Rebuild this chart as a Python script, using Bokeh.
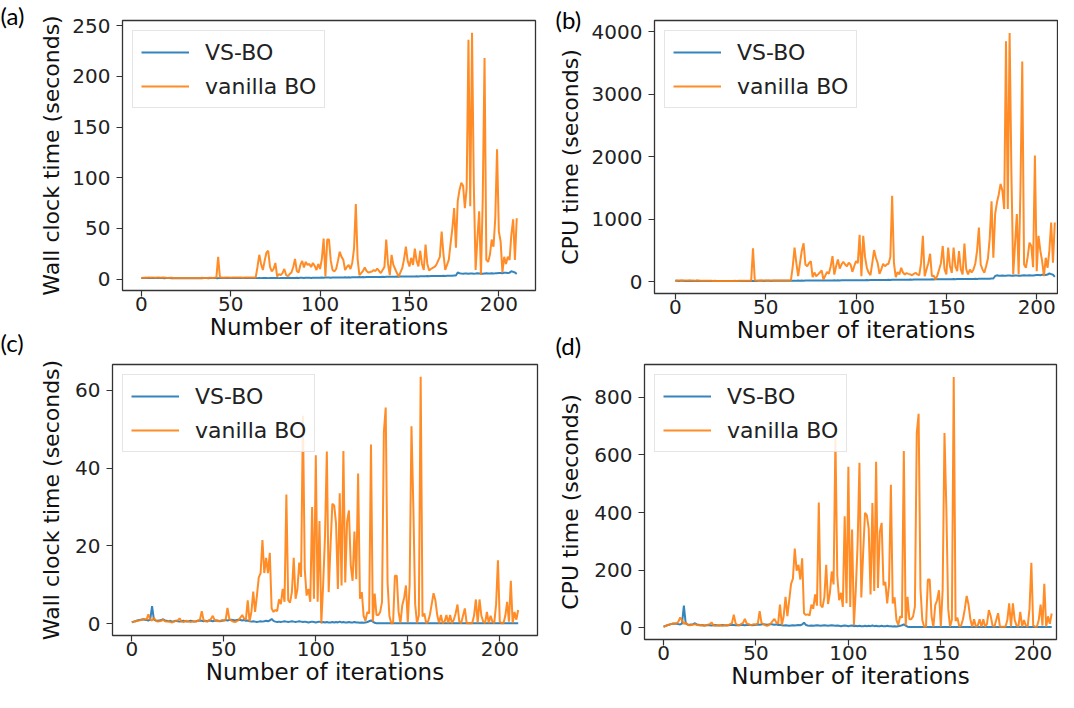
from bokeh.plotting import figure
from bokeh.layouts import column, row
from bokeh.models import Range1d, FixedTicker, Title
from bokeh.embed import file_html
from bokeh.resources import INLINE

N = 211
iterations = list(range(N))
x_ticks = [0, 50, 100, 150, 200]
series_names = ["VS-BO", "vanilla BO"]
panel_tags = ["(a)", "(b)", "(c)", "(d)"]

# ---------------- (a) wall clock time, run 1 ----------------
wall_vs_a = [
    1.0, 1.1, 1.0, 1.2, 1.1, 1.0, 1.1, 1.2, 1.0, 1.1,
    1.0, 1.1, 1.0, 0.9, 1.0, 1.1, 1.0, 0.9, 1.0, 1.0,
    0.9, 1.0, 1.0, 0.9, 1.0, 0.9, 1.0, 1.0, 0.9, 1.0,
    1.0, 0.9, 1.0, 1.0, 0.9, 1.0, 1.1, 1.0, 1.0, 1.1,
    1.0, 1.1, 1.0, 1.0, 1.1, 1.0, 1.1, 1.0, 1.1, 1.0,
    1.1, 1.0, 1.1, 1.1, 1.0, 1.1, 1.0, 1.1, 1.1, 1.0,
    1.1, 1.0, 1.1, 1.0, 1.1, 1.0, 1.1, 1.0, 1.1, 1.2,
    1.1, 1.0, 1.1, 1.2, 1.1, 1.2, 1.1, 1.0, 1.1, 1.2,
    1.2, 1.1, 1.2, 1.3, 1.2, 1.1, 1.2, 1.3, 1.2, 1.3,
    1.3, 1.2, 1.3, 1.4, 1.3, 1.2, 1.3, 1.4, 1.3, 1.4,
    1.4, 1.5, 1.4, 1.5, 1.6, 1.5, 1.4, 1.5, 1.6, 1.5,
    1.6, 1.7, 1.6, 1.7, 1.8, 1.7, 1.8, 1.7, 1.8, 1.9,
    1.8, 1.9, 2.0, 1.9, 2.0, 1.9, 2.0, 2.1, 2.0, 2.1,
    2.2, 2.1, 2.2, 2.1, 2.2, 2.3, 2.2, 2.3, 2.4, 2.3,
    2.4, 2.3, 2.4, 2.5, 2.4, 2.5, 2.6, 2.5, 2.6, 2.5,
    2.6, 2.7, 2.6, 2.7, 2.8, 2.7, 2.8, 2.9, 2.8, 2.9,
    3.0, 2.9, 3.0, 3.1, 3.0, 3.1, 3.2, 3.1, 3.2, 3.3,
    3.2, 3.3, 3.4, 3.3, 3.4, 3.5, 3.6, 6.5, 5.8, 5.5,
    5.4, 5.6, 5.5, 5.3, 5.5, 5.6, 5.4, 5.5, 5.7, 5.6,
    5.5, 5.4, 5.6, 5.7, 5.5, 5.6, 5.8, 5.6, 5.7, 5.9,
    6.0, 6.1, 5.9, 6.2, 6.3, 6.1, 6.4, 7.8, 7.2, 6.5, 5.2,
]
wall_van_a = [
    1.0, 1.3, 1.5, 1.4, 1.6, 1.5, 1.7, 1.5, 1.4, 1.6,
    1.5, 1.4, 1.6, 1.5, 1.3, 1.2, 1.4, 1.3, 1.2, 1.1,
    1.2, 1.0, 1.1, 1.2, 1.0, 1.1, 1.0, 1.2, 1.1, 1.0,
    1.1, 1.2, 1.0, 1.1, 1.3, 1.2, 1.1, 1.2, 1.4, 1.3,
    1.2, 1.4, 1.5, 22.0, 1.6, 1.5, 1.4, 1.5, 1.6, 1.5,
    1.4, 1.5, 1.6, 1.5, 1.5, 1.6, 1.5, 1.4, 1.5, 1.6,
    1.5, 1.6, 1.5, 1.6, 1.7, 12.0, 24.0, 15.0, 9.0, 18.0,
    26.0, 28.0, 12.0, 7.6, 10.0, 16.0, 2.6, 5.0, 4.0, 6.0,
    10.0, 4.0, 3.0, 5.0, 6.6, 12.0, 20.0, 8.0, 6.6, 14.0,
    18.0, 11.5, 17.0, 14.0, 15.0, 12.0, 16.0, 13.0, 9.0, 15.0,
    10.0, 20.0, 40.0, 2.6, 39.0, 39.0, 18.0, 9.0, 7.6, 10.0,
    18.0, 27.0, 22.0, 19.0, 9.0, 12.0, 14.0, 10.0, 16.0, 30.0,
    74.0, 20.0, 4.0, 6.0, 8.0, 11.5, 8.0, 6.6, 7.0, 7.6,
    9.0, 8.0, 10.5, 8.0, 6.0, 9.0, 12.0, 39.0, 15.0, 4.0,
    24.0, 14.0, 10.0, 6.0, 2.6, 7.0, 11.0, 20.0, 32.0, 18.0,
    12.5, 21.0, 14.0, 30.0, 18.0, 12.5, 28.0, 15.0, 9.0, 34.0,
    15.0, 8.6, 10.0, 11.0, 12.0, 14.0, 18.0, 22.0, 47.0, 25.0,
    9.0, 14.0, 19.0, 35.0, 50.0, 70.0, 31.0, 77.0, 88.0, 95.0,
    92.0, 70.0, 90.0, 236.0, 72.0, 243.0, 92.0, 9.0, 40.0, 67.0,
    4.0, 80.0, 218.0, 19.0, 17.0, 24.0, 39.0, 32.0, 60.0, 128.0,
    47.0, 37.0, 6.6, 22.0, 15.0, 22.0, 19.0, 44.0, 59.0, 19.0, 60.0,
]

# ---------------- (b) CPU time, run 1 ----------------
cpu_vs_b = [
    18, 17, 16, 18, 17, 16, 15, 16, 17, 16,
    15, 16, 17, 16, 15, 14, 15, 16, 15, 14,
    15, 16, 15, 14, 15, 16, 15, 14, 13, 14,
    15, 14, 13, 14, 15, 14, 13, 14, 15, 16,
    15, 16, 17, 16, 15, 16, 17, 18, 17, 16,
    17, 18, 17, 16, 17, 18, 19, 18, 17, 18,
    19, 18, 19, 20, 19, 20, 19, 20, 21, 20,
    21, 20, 21, 22, 21, 22, 21, 22, 23, 22,
    23, 22, 23, 24, 23, 24, 23, 24, 25, 24,
    25, 24, 25, 26, 25, 26, 25, 26, 27, 26,
    27, 26, 27, 28, 27, 28, 29, 28, 29, 30,
    29, 30, 31, 30, 31, 32, 31, 32, 33, 32,
    33, 34, 33, 34, 35, 34, 35, 36, 35, 36,
    37, 36, 37, 38, 37, 38, 39, 38, 39, 40,
    39, 40, 41, 40, 41, 42, 41, 42, 43, 42,
    43, 44, 43, 44, 45, 44, 45, 46, 45, 46,
    47, 46, 47, 48, 47, 48, 49, 48, 49, 50,
    49, 50, 51, 52, 51, 53, 55, 95, 105, 100,
    98, 102, 100, 97, 101, 104, 99, 100, 103, 101,
    100, 98, 102, 105, 101, 103, 106, 102, 104, 108,
    110, 112, 108, 114, 116, 112, 118, 135, 125, 115, 80,
]
cpu_van_b = [
    20, 22, 21, 23, 22, 24, 23, 22, 21, 22,
    21, 20, 22, 21, 19, 18, 19, 18, 17, 18,
    17, 16, 17, 16, 15, 16, 15, 16, 15, 16,
    16, 15, 16, 17, 16, 17, 18, 17, 18, 19,
    18, 19, 20, 537, 22, 21, 20, 21, 22, 21,
    22, 21, 22, 21, 22, 23, 22, 21, 22, 23,
    22, 23, 24, 23, 25, 250, 548, 300, 91, 300,
    500, 618, 279, 250, 300, 333, 75, 150, 91, 120,
    150, 183, 38, 100, 161, 130, 250, 413, 118, 250,
    360, 215, 280, 322, 279, 250, 306, 280, 161, 250,
    333, 300, 752, 91, 736, 400, 226, 150, 107, 300,
    510, 387, 300, 129, 200, 290, 250, 279, 290, 400,
    1380, 300, 75, 156, 120, 226, 150, 118, 140, 129,
    120, 107, 130, 145, 120, 107, 300, 736, 91, 200,
    300, 451, 91, 100, 38, 100, 199, 300, 575, 200,
    118, 548, 250, 145, 548, 250, 172, 494, 200, 118,
    612, 200, 118, 199, 150, 200, 290, 500, 870, 279,
    200, 145, 250, 376, 700, 1289, 387, 1085, 1273, 1400,
    1568, 1461, 1165, 3850, 1165, 3985, 1729, 118, 600, 1085,
    118, 1500, 3528, 279, 226, 400, 628, 575, 236, 2024,
    172, 736, 500, 333, 91, 387, 226, 500, 950, 306, 950,
]

# ---------------- (c) wall clock time, run 2 ----------------
wall_vs_c = [
    0.3, 0.5, 0.6, 0.8, 0.9, 1.0, 1.1, 1.0, 0.9, 0.8,
    1.0, 4.5, 1.0, 0.8, 0.7, 0.8, 0.9, 1.1, 0.8, 0.7,
    0.6, 0.7, 0.5, 0.6, 0.7, 0.6, 0.5, 0.6, 0.7, 0.6,
    0.5, 0.6, 0.7, 0.6, 0.5, 0.6, 0.7, 0.8, 0.7, 0.6,
    0.7, 0.6, 0.8, 0.7, 0.6, 0.7, 0.8, 0.7, 0.6, 0.7,
    0.8, 0.9, 0.8, 0.9, 1.0, 0.9, 0.8, 0.9, 1.0, 0.9,
    0.8, 0.9, 0.7, 0.8, 0.6, 0.5, 0.6, 0.5, 0.4, 0.5,
    0.6, 0.5, 0.6, 0.7, 0.6, 0.8, 1.2, 0.7, 0.5, 0.4,
    0.5, 0.4, 0.5, 0.6, 0.5, 0.4, 0.5, 0.6, 0.5, 0.4,
    0.5, 0.6, 0.5, 0.4, 0.5, 0.4, 0.3, 0.4, 0.5, 0.4,
    0.3, 0.4, 0.5, 0.3, 0.4, 0.3, 0.4, 0.3, 0.3, 0.4,
    0.3, 0.4, 0.3, 0.5, 0.3, 0.4, 0.3, 0.3, 0.4, 0.3,
    0.3, 0.4, 0.3, 0.3, 0.2, 0.3, 0.2, 0.3, 0.4, 0.6,
    0.8, 0.5, 0.2, 0.1, 0.1, 0.1, 0.1, 0.1, 0.1, 0.1,
    0.1, 0.1, 0.1, 0.1, 0.1, 0.1, 0.1, 0.1, 0.1, 0.1,
    0.1, 0.1, 0.1, 0.1, 0.1, 0.1, 0.1, 0.1, 0.1, 0.1,
    0.1, 0.1, 0.1, 0.1, 0.1, 0.1, 0.1, 0.1, 0.1, 0.1,
    0.1, 0.1, 0.1, 0.1, 0.1, 0.1, 0.1, 0.1, 0.1, 0.1,
    0.1, 0.1, 0.1, 0.1, 0.1, 0.1, 0.1, 0.1, 0.1, 0.1,
    0.1, 0.1, 0.1, 0.1, 0.1, 0.1, 0.1, 0.1, 0.1, 0.1,
    0.1, 0.1, 0.1, 0.1, 0.1, 0.1, 0.1, 0.1, 0.1, 0.1, 0.1,
]
wall_van_c = [
    0.3, 0.5, 0.6, 0.7, 0.8, 0.9, 1.0, 1.2, 1.0, 2.4,
    1.0, 0.8, 1.5, 0.8, 0.5, 0.6, 0.7, 1.0, 0.6, 0.5,
    0.6, 0.4, 0.3, 0.5, 0.7, 0.8, 1.35, 0.5, 0.4, 0.6,
    0.7, 0.5, 0.4, 0.5, 0.6, 0.5, 0.8, 0.9, 3.2, 0.9,
    0.6, 0.5, 0.8, 1.2, 2.0, 0.9, 0.8, 0.6, 0.7, 0.9,
    0.8, 1.0, 4.0, 1.2, 0.8, 0.5, 0.4, 0.6, 0.9, 1.5,
    2.2, 1.3, 1.0, 6.0, 0.5, 3.0, 8.2, 3.0, 7.2, 11.9,
    13.0, 21.5, 13.0, 16.9, 13.0, 18.2, 3.9, 3.0, 3.5, 3.2,
    6.2, 5.0, 8.9, 5.6, 33.2, 6.0, 5.4, 8.1, 16.9, 6.4,
    8.8, 15.7, 12.0, 53.5, 14.0, 7.2, 8.9, 5.6, 30.0, 6.4,
    43.3, 5.6, 26.4, 0.1, 10.0, 22.4, 44.3, 8.1, 20.0, 30.8,
    30.4, 25.8, 8.9, 33.5, 9.8, 44.4, 10.6, 26.2, 29.1, 15.0,
    11.0, 23.7, 11.4, 38.6, 6.4, 8.1, 2.0, 0.7, 3.0, 2.6,
    46.1, 0.5, 7.7, 2.2, 2.2, 3.0, 5.6, 49.3, 55.6, 10.6,
    2.0, 0.1, 0.1, 12.3, 12.3, 3.0, 0.1, 4.7, 6.6, 9.8,
    0.2, 10.0, 50.8, 30.6, 5.0, 0.1, 2.1, 63.5, 1.8, 2.6,
    0.1, 0.5, 2.2, 5.0, 7.8, 6.0, 2.2, 0.1, 2.2, 0.1,
    0.5, 2.2, 0.1, 2.2, 0.1, 1.0, 2.6, 4.9, 0.5, 0.1,
    2.0, 3.9, 0.1, 0.1, 0.1, 0.1, 2.0, 6.2, 0.1, 6.2,
    2.0, 0.5, 0.1, 3.0, 0.1, 2.0, 0.5, 0.1, 5.0, 16.3,
    0.5, 0.1, 0.1, 2.0, 5.6, 0.5, 11.0, 0.1, 3.0, 1.0, 3.5,
]

# ---------------- (d) CPU time, run 2 ----------------
cpu_vs_d = [
    3, 6, 8, 10, 12, 13, 14, 13, 12, 11,
    14, 76, 14, 11, 10, 11, 12, 15, 11, 10,
    8, 9, 7, 8, 9, 8, 7, 8, 9, 8,
    7, 8, 9, 8, 7, 8, 9, 10, 9, 8,
    9, 8, 10, 9, 8, 9, 10, 9, 8, 9,
    10, 11, 10, 11, 12, 11, 10, 11, 12, 11,
    10, 11, 9, 10, 8, 7, 8, 7, 6, 7,
    8, 7, 8, 9, 8, 11, 17, 9, 7, 6,
    7, 6, 7, 8, 7, 6, 7, 8, 7, 6,
    7, 8, 7, 6, 7, 6, 5, 6, 7, 6,
    5, 6, 7, 5, 6, 5, 6, 5, 5, 6,
    5, 6, 5, 7, 5, 6, 5, 5, 6, 5,
    5, 6, 5, 5, 4, 5, 4, 5, 6, 8,
    11, 7, 3, 2, 2, 2, 2, 2, 2, 2,
    2, 2, 2, 2, 2, 2, 2, 2, 2, 2,
    2, 2, 2, 2, 2, 2, 2, 2, 2, 2,
    2, 2, 2, 2, 2, 2, 2, 2, 2, 2,
    2, 2, 2, 2, 2, 2, 2, 2, 2, 2,
    2, 2, 2, 2, 2, 2, 2, 2, 2, 2,
    2, 2, 2, 2, 2, 2, 2, 2, 2, 2,
    2, 2, 2, 2, 2, 2, 2, 2, 2, 2, 2,
]
cpu_van_d = [
    2, 5, 8, 10, 12, 14, 13, 15, 20, 35,
    25, 12, 18, 10, 8, 9, 10, 12, 9, 8,
    9, 8, 6, 8, 10, 12, 18, 8, 6, 7,
    8, 7, 6, 8, 9, 8, 12, 15, 45, 14,
    9, 8, 12, 16, 30, 14, 12, 9, 10, 12,
    11, 14, 57, 16, 12, 8, 6, 9, 14, 22,
    30, 18, 14, 80, 8, 40, 107, 40, 95, 152,
    170, 275, 198, 218, 167, 241, 50, 44, 46, 42,
    80, 65, 115, 76, 435, 78, 70, 105, 218, 82,
    120, 195, 150, 662, 180, 95, 121, 72, 387, 85,
    559, 72, 341, 8, 130, 290, 573, 105, 260, 399,
    390, 344, 115, 433, 127, 576, 138, 332, 364, 147,
    158, 84, 148, 496, 84, 105, 26, 9, 39, 34,
    614, 7, 107, 29, 29, 39, 73, 676, 743, 135,
    26, 3, 3, 167, 167, 39, 3, 78, 95, 130,
    3, 130, 676, 416, 65, 3, 27, 871, 23, 34,
    3, 7, 29, 65, 110, 80, 29, 3, 29, 3,
    7, 29, 3, 29, 3, 13, 61, 40, 7, 3,
    26, 50, 3, 3, 3, 3, 26, 84, 3, 84,
    26, 7, 3, 55, 3, 26, 7, 3, 65, 225,
    7, 3, 3, 26, 80, 7, 152, 3, 39, 13, 49,
]

for arr in (wall_vs_a, wall_van_a, cpu_vs_b, cpu_van_b,
            wall_vs_c, wall_van_c, cpu_vs_d, cpu_van_d):
    assert len(arr) == N, len(arr)

BLUE = "#1f77b4"
ORANGE = "#ff7f0e"
FONT = "DejaVu Sans"
DARK = "#333333"


def padded(a, b):
    lo = min(min(a), min(b))
    hi = max(max(a), max(b))
    span = hi - lo
    return Range1d(lo - 0.05 * span, hi + 0.05 * span)


def style_tag(t, offset, standoff, valign):
    t.align = "left"
    t.offset = offset
    t.vertical_align = valign
    t.text_font = "Lato"
    t.text_font_size = "24px"
    t.text_font_style = "normal"
    t.text_color = "black"
    try:
        t.standoff = standoff
    except Exception:
        t.standoff = 0


def panel(vs, van, x_range, y_ticks, y_label, fw, fh, bl, bt, br, bb,
          y_als, x_mls, x_als, top_tag=None, below_tag=None):
    p = figure(frame_width=fw, frame_height=fh,
               min_border_left=bl, min_border_top=bt,
               min_border_right=br, min_border_bottom=bb,
               x_range=x_range, y_range=padded(vs, van),
               output_backend="svg", toolbar_location=None, tools="")
    p.line(iterations, vs, line_color=BLUE, line_width=2, line_alpha=0.9,
           legend_label=series_names[0])
    p.line(iterations, van, line_color=ORANGE, line_width=2, line_alpha=0.9,
           legend_label=series_names[1])
    p.xgrid.visible = False
    p.ygrid.visible = False
    p.outline_line_color = DARK
    p.outline_line_width = 1.3
    p.outline_line_alpha = 1.0
    p.background_fill_color = "white"
    p.border_fill_color = "white"

    p.xaxis.ticker = FixedTicker(ticks=x_ticks, minor_ticks=[])
    p.yaxis.ticker = FixedTicker(ticks=y_ticks, minor_ticks=[])
    for ax in (p.xaxis[0], p.yaxis[0]):
        ax.axis_line_color = None
        ax.major_tick_line_color = DARK
        ax.major_tick_line_width = 1.2
        ax.major_tick_out = 6
        ax.major_tick_in = 0
        ax.minor_tick_line_color = None
        ax.major_label_text_font = FONT
        ax.major_label_text_font_size = "20px"
        ax.major_label_text_color = "#222222"
        ax.axis_label_text_font = FONT
        ax.axis_label_text_font_style = "normal"
        ax.axis_label_text_color = "#111111"
    p.xaxis.axis_label = "Number of iterations"
    p.xaxis.axis_label_text_font_size = "23px"
    p.xaxis.major_label_standoff = x_mls
    p.xaxis.axis_label_standoff = x_als
    p.yaxis.axis_label = y_label
    p.yaxis.axis_label_text_font_size = "22px"
    p.yaxis.major_label_standoff = 6
    p.yaxis.axis_label_standoff = y_als

    lg = p.legend[0]
    lg.location = "top_left"
    lg.margin = 10
    lg.padding = 8
    lg.spacing = 8
    lg.glyph_width = 48
    lg.glyph_height = 26
    lg.label_height = 26
    lg.label_standoff = 16
    lg.label_text_font = FONT
    lg.label_text_font_size = "22px"
    lg.label_text_color = "#222222"
    lg.border_line_color = "#cccccc"
    lg.border_line_width = 1
    lg.background_fill_alpha = 0.85

    if top_tag is not None:
        text, off, so = top_tag
        p.title.text = text
        style_tag(p.title, off, so, "bottom")
    if below_tag is not None:
        text, off, so = below_tag
        t = Title(text=text)
        style_tag(t, off, so, "top")
        p.add_layout(t, "below")
    return p


pa = panel(wall_vs_a, wall_van_a, Range1d(-10.5, 220.5),
           [0, 50, 100, 150, 200, 250], "Wall clock time (seconds)",
           413, 270, 122, 20, 13, 70, 5, 0, 0,
           top_tag=(panel_tags[0], -122, -19),
           below_tag=(panel_tags[2], -122, -30))
pb = panel(cpu_vs_b, cpu_van_b, Range1d(-11.5, 211.5),
           [0, 1000, 2000, 3000, 4000], "CPU time (seconds)",
           403, 273, 106, 16, 1, 71, 6, 0, 0,
           top_tag=(panel_tags[1], -99, -27),
           below_tag=(panel_tags[3], -99, -30))
pc = panel(wall_vs_c, wall_van_c, Range1d(-10.5, 220.5),
           [0, 20, 40, 60], "Wall clock time (seconds)",
           425, 271, 112, 4, 11, 57, 8, 0, 0)
pd = panel(cpu_vs_d, cpu_van_d, Range1d(-10.3, 212.6),
           [0, 200, 400, 600, 800], "CPU time (seconds)",
           412, 275, 96, 0, 2, 57, 8, 0, 0)

layout = column(row(pa, pb), row(pc, pd))
open("out.html", "w").write(file_html(layout, INLINE))
